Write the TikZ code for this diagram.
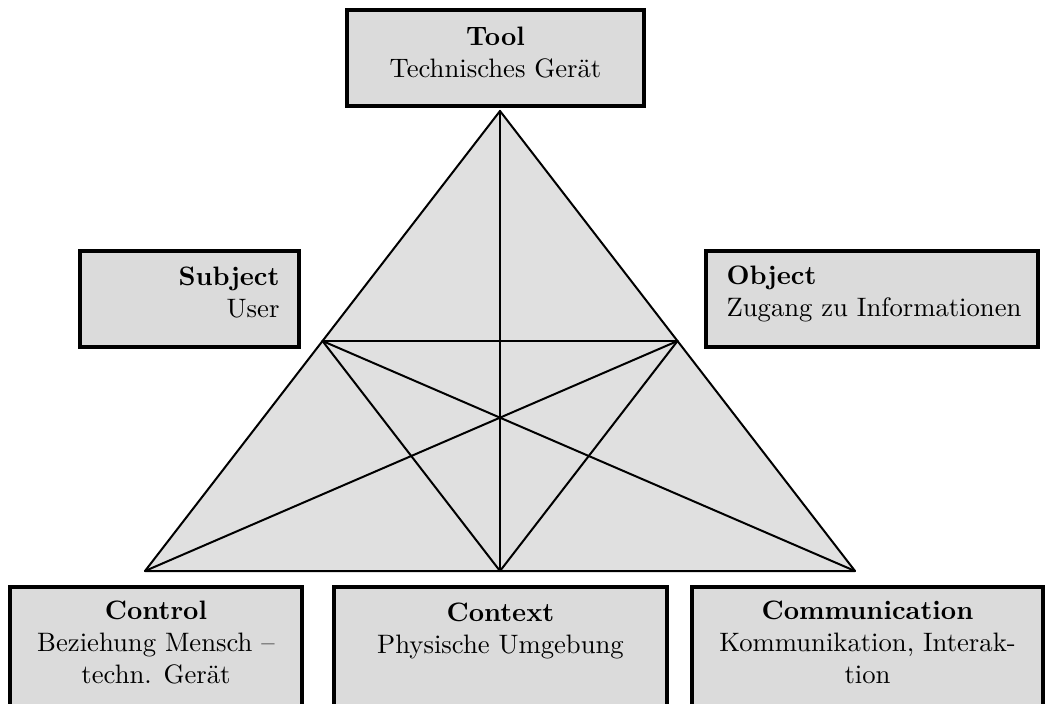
\documentclass[tikz,border=0pt]{standalone}
\definecolor{boxfill}{gray}{0.86}
\definecolor{trifill}{gray}{0.88}
\tikzset{
  box/.style 2 args={draw, line width=1.25pt, fill=boxfill, inner sep=0pt,
    minimum width=#1*0.375pt, minimum height=#2*0.375pt},
  boxtext/.style={inner sep=0pt, anchor=base},
  edge/.style={line width=0.75pt, line join=round, line cap=round},
}
\begin{document}
\begin{tikzpicture}[x=0.375pt, y=-0.375pt]
\clip (0,0) rectangle (1060,704);

% triangle corners and side midpoints
\coordinate (top) at (500,111);
\coordinate (bl) at (145,571);
\coordinate (br) at (855,571);
\coordinate (ml) at (322.5,341);
\coordinate (mr) at (677.5,341);
\coordinate (mb) at (500,571);

\fill[trifill] (top) -- (br) -- (bl) -- cycle;
\draw[edge] (top) -- (br) -- (bl) -- cycle;
\draw[edge] (top) -- (mb);
\draw[edge] (ml) -- (mr);
\draw[edge] (ml) -- (br);
\draw[edge] (mr) -- (bl);
\draw[edge] (ml) -- (mb);
\draw[edge] (mr) -- (mb);

% boxes
\node[box={297}{96}] (tool) at (495.5,58) {};
\node[box={219}{96}] (subject) at (189.5,299) {};
\node[box={332}{96}] (object) at (872,299) {};
\node[box={292}{140}] (control) at (156,657) {};
\node[box={333}{140}] (context) at (500.5,657) {};
\node[box={351}{140}] (communication) at (867.5,657) {};

% box labels (anchored at the baseline of the last line)
\node[boxtext, align=center] (tooltext) at (495.5,78) {\textbf{Tool}\\Technisches Gerät};
\node[boxtext, align=right, anchor=base east] (subjecttext) at (280,318) {\textbf{Subject}\\User};
\node[boxtext, align=left, anchor=base west] (objecttext) at (726,317) {\textbf{Object}\\Zugang zu Informationen};
\node[boxtext, align=center] (controltext) at (156,683) {\textbf{Control}\\Beziehung Mensch --\\techn. Gerät};
\node[boxtext, align=center] (contexttext) at (500.5,653) {\textbf{Context}\\Physische Umgebung};
\node[boxtext, align=center] (communicationtext) at (867.5,683) {\textbf{Communication}\\Kommunikation, Interak-\\tion};
\end{tikzpicture}
\end{document}
